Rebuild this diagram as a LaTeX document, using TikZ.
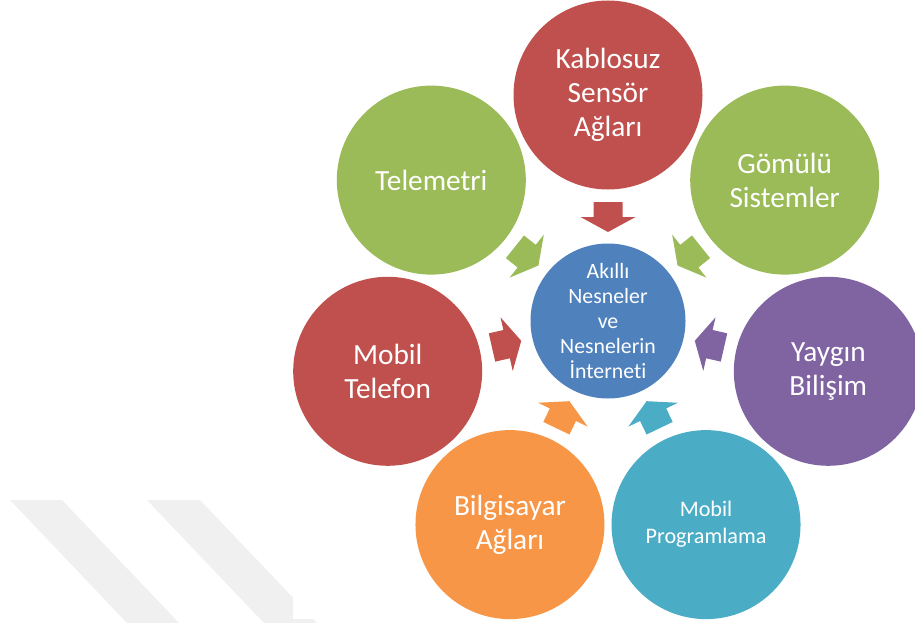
\documentclass[tikz,border=0pt]{standalone}
\usepackage{fontspec}
\setmainfont{Carlito}[Ligatures=NoCommon]
\usetikzlibrary{calc}
\definecolor{hubblue}{HTML}{4F81BD}
\definecolor{spokered}{HTML}{C0504D}
\definecolor{spokegreen}{HTML}{9BBB59}
\definecolor{spokepurple}{HTML}{8064A2}
\definecolor{spoketeal}{HTML}{4BACC6}
\definecolor{spokeorange}{HTML}{F79646}
\definecolor{stripegray}{HTML}{F0F0F0}
\begin{document}
\begin{tikzpicture}[x=1pt,y=1pt,
  spoke/.style={circle,minimum size=189pt,inner sep=0pt,text=white,align=center,
    font=\fontsize{29.3}{34}\selectfont},
  hubnode/.style={circle,minimum size=155pt,inner sep=0pt,text=white,align=center,
    fill=hubblue,font=\fontsize{21.8}{25}\selectfont}]
\useasboundingbox (0,0) rectangle (915,-623);
\fill[white] (0,0) rectangle (915,-623);

% faint diagonal stripes in the lower left corner
\fill[stripegray] (10,-500) -- (62,-500) -- (179,-623) -- (127,-623) -- cycle;
\fill[stripegray] (147,-500) -- (200,-500) -- (317,-623) -- (264,-623) -- cycle;
\fill[white] (293,-450) rectangle (915,-619);

% hub
\node[hubnode] (hub) at (608,-321) {Akıllı\\Nesneler\\ve\\Nesnelerin\\İnterneti};

% surrounding circles, seven at equal angles
\node[spoke,fill=spokered]    (wsn)  at ($(hub)+(90:226)$)      {Kablosuz\\Sensör\\Ağları};
\node[spoke,fill=spokegreen]  (emb)  at ($(hub)+(38.57:226)$)   {Gömülü\\Sistemler};
\node[spoke,fill=spokepurple] (perv) at ($(hub)+(-12.86:226)$)  {Yaygın\\Bilişim};
\node[spoke,fill=spoketeal,font=\fontsize{22.2}{27}\selectfont]
                              (mprog) at ($(hub)+(-64.29:226)$) {Mobil\\Programlama};
\node[spoke,fill=spokeorange] (net)  at ($(hub)+(-115.71:226)$) {Bilgisayar\\Ağları};
\node[spoke,fill=spokered]    (mtel) at ($(hub)+(-167.14:226)$) {Mobil\\Telefon};
\node[spoke,fill=spokegreen]  (tele) at ($(hub)+(141.43:226)$)  {Telemetri};

% block arrows pointing into the hub
\foreach \ang/\col in {90/spokered,38.57/spokegreen,-12.86/spokepurple,
    -64.29/spoketeal,-115.71/spokeorange,-167.14/spokered,141.43/spokegreen}{
  \fill[\col,shift={(hub)},rotate=\ang]
    (119,14.5) -- (104,14.5) -- (104,27.5) -- (89,0) -- (104,-27.5)
    -- (104,-14.5) -- (119,-14.5) -- cycle;
}
\end{tikzpicture}
\end{document}
